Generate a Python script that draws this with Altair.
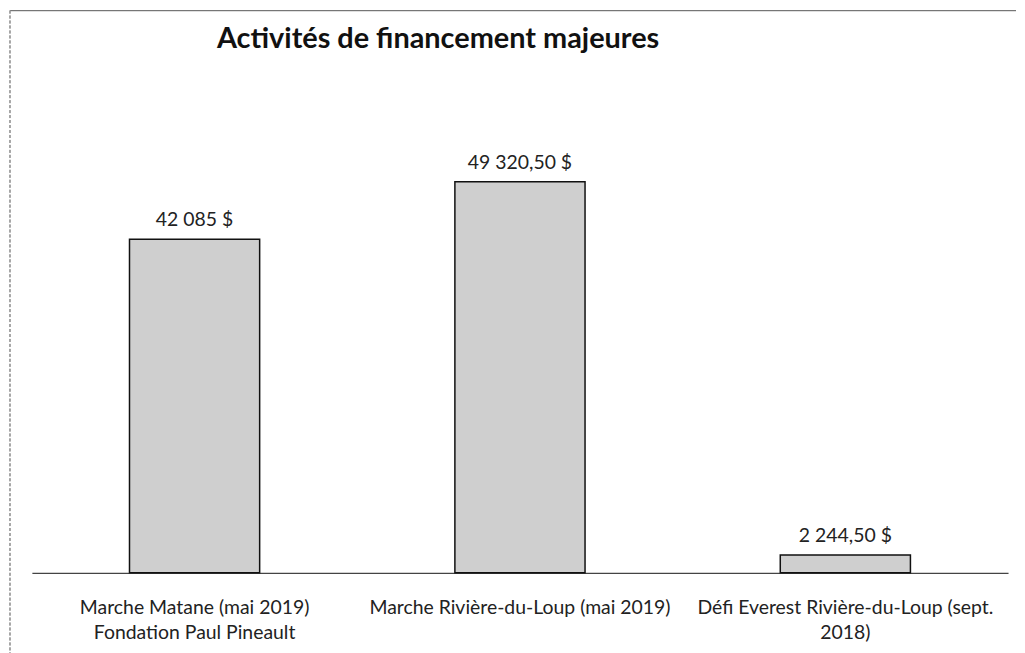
import altair as alt
import pandas as pd

categories = [
    "Marche Matane (mai 2019)|Fondation Paul Pineault",
    "Marche Rivière-du-Loup (mai 2019)",
    "Défi Everest Rivière-du-Loup (sept.|2018)",
]
values = [42085, 49320.50, 2244.50]
value_labels = ["42 085 $", "49 320,50 $", "2 244,50 $"]

df = pd.DataFrame({"cat": categories, "val": values, "lab": value_labels})

FONT = "Lato"

x = alt.X(
    "cat:N",
    sort=categories,
    title=None,
    scale=alt.Scale(paddingInner=0.6, paddingOuter=0.3),
    axis=alt.Axis(
        labelExpr="split(datum.label, '|')",
        labelAngle=0,
        ticks=False,
        labelPadding=41,
        labelBaseline="alphabetic",
        labelFontSize=19.5,
        labelFont=FONT,
        labelColor="#222",
        labelLineHeight=25,
        labelLimit=400,
        domainColor="#444",
        domainWidth=1.2,
        grid=False,
    ),
)
y = alt.Y("val:Q", scale=alt.Scale(domain=[0, 60000]), axis=None)

bars = alt.Chart(df).mark_bar(
    fill="#cfcfcf", stroke="#111", strokeWidth=1.5
).encode(x=x, y=y)

texts = alt.Chart(df).mark_text(
    baseline="alphabetic", dy=-13, fontSize=19.5, font=FONT, color="#222"
).encode(x=alt.X("cat:N", sort=categories), y="val:Q", text="lab:N")

border_top = alt.Chart(df).mark_rule(color="#777", strokeWidth=1).encode(
    x=alt.value(-22), x2=alt.value(989), y=alt.value(-87)
)
border_left = alt.Chart(df).mark_rule(color="#999", strokeWidth=1, strokeDash=[3, 2]).encode(
    x=alt.value(-22), y=alt.value(-87), y2=alt.value(560)
)

chart = alt.layer(border_top, border_left, bars, texts).properties(
    width=981,
    height=478,
    title=alt.TitleParams(
        "Activités de financement majeures",
        anchor="start",
        frame="group",
        dx=186,
        offset=-67,
        baseline="alphabetic",
        fontSize=29,
        font=FONT,
        fontWeight="bold",
        color="#111",
    ),
    autosize=alt.AutoSizeParams(type="none"),
    padding={"left": 24, "top": 88, "right": 9, "bottom": 80},
).configure_view(stroke=None)

chart.save("out.html", embed_options={"renderer": "svg", "actions": False})
